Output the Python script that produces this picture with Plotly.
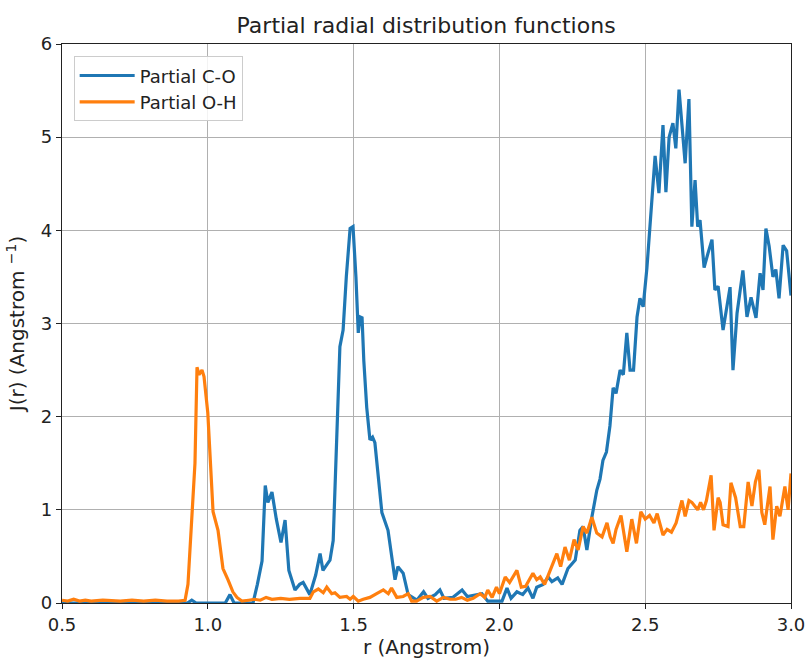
import plotly.graph_objects as go

# Partial C-O
r_co = [0.50, 0.90, 0.93, 0.945, 0.96, 1.06, 1.076, 1.09, 1.155, 1.17, 1.186, 1.197, 1.206, 1.22,
        1.235, 1.251, 1.265, 1.278, 1.299, 1.315, 1.327, 1.35, 1.37, 1.385, 1.395, 1.41, 1.419,
        1.43, 1.443, 1.453, 1.464, 1.475, 1.488, 1.498, 1.508, 1.516, 1.522, 1.529, 1.535, 1.545,
        1.556, 1.565, 1.573, 1.585, 1.597, 1.618, 1.63, 1.642, 1.652, 1.67, 1.687, 1.717, 1.74,
        1.755, 1.78, 1.796, 1.81, 1.84, 1.872, 1.89, 1.94, 1.96, 2.009, 2.026, 2.04, 2.06, 2.08,
        2.098, 2.115, 2.128, 2.15, 2.167, 2.18, 2.2, 2.215, 2.235, 2.26, 2.276, 2.287, 2.3, 2.317,
        2.334, 2.345, 2.355, 2.367, 2.379, 2.39, 2.40, 2.414, 2.425, 2.437, 2.448, 2.46, 2.472,
        2.482, 2.493, 2.506, 2.517, 2.534, 2.547, 2.561, 2.571, 2.582, 2.595, 2.605, 2.616, 2.626,
        2.637, 2.65, 2.66, 2.671, 2.68, 2.688, 2.702, 2.715, 2.729, 2.739, 2.75, 2.767, 2.78,
        2.791, 2.801, 2.815, 2.835, 2.849, 2.863, 2.88, 2.894, 2.904, 2.914, 2.925, 2.938, 2.948,
        2.959, 2.973, 2.985, 3.0]
j_co = [0.0, 0.0, 0.0, 0.03, 0.0, 0.0, 0.09, 0.0, 0.0, 0.2, 0.45, 1.26, 1.08, 1.19,
        0.9, 0.65, 0.89, 0.35, 0.14, 0.2, 0.22, 0.09, 0.3, 0.53, 0.35, 0.42, 0.46,
        0.67, 2.0, 2.75, 2.93, 3.5, 4.02, 4.04, 3.5, 2.9, 3.07, 3.06, 2.6, 2.1,
        1.75, 1.78, 1.72, 1.3, 0.97, 0.78, 0.5, 0.25, 0.39, 0.32, 0.09, 0.03, 0.12,
        0.05, 0.09, 0.14, 0.05, 0.06, 0.14, 0.07, 0.1, 0.02, 0.02, 0.16, 0.05, 0.12, 0.09,
        0.16, 0.05, 0.17, 0.2, 0.28, 0.23, 0.27, 0.2, 0.37, 0.46, 0.78, 0.82, 0.57, 0.92,
        1.21, 1.33, 1.53, 1.62, 1.9, 2.31, 2.25, 2.5, 2.45, 2.9, 2.5, 2.5, 3.07,
        3.27, 3.18, 3.6, 4.1, 4.8, 4.4, 5.13, 4.41, 5.0, 5.15, 4.88, 5.51, 5.09,
        4.72, 5.41, 4.04, 4.54, 4.04, 4.11, 3.6, 3.75, 3.9, 3.36, 3.4, 2.93, 3.2,
        3.39, 2.5, 3.11, 3.57, 3.07, 3.28, 3.06, 3.54, 3.36, 4.02, 3.83, 3.5, 3.58,
        3.27, 3.84, 3.78, 3.3]

# Partial O-H
r_oh = [0.50, 0.52, 0.54, 0.56, 0.58, 0.60, 0.64, 0.70, 0.74, 0.78, 0.82, 0.86, 0.90, 0.922,
        0.932, 0.946, 0.956, 0.963, 0.97, 0.98, 0.987, 1.0, 1.01, 1.018, 1.035, 1.052, 1.069,
        1.086, 1.10, 1.117, 1.14, 1.16, 1.18, 1.20, 1.22, 1.25, 1.28, 1.30, 1.316, 1.35, 1.362,
        1.379, 1.396, 1.408, 1.425, 1.436, 1.453, 1.476, 1.488, 1.499, 1.516, 1.533, 1.556,
        1.579, 1.602, 1.619, 1.63, 1.648, 1.67, 1.687, 1.699, 1.716, 1.739, 1.762, 1.785, 1.808,
        1.831, 1.85, 1.87, 1.89, 1.91, 1.934, 1.95, 1.96, 1.975, 1.99, 2.0, 2.02, 2.035, 2.06,
        2.075, 2.09, 2.115, 2.128, 2.14, 2.155, 2.18, 2.197, 2.21, 2.225, 2.24, 2.256, 2.27,
        2.287, 2.30, 2.317, 2.334, 2.352, 2.369, 2.38, 2.39, 2.40, 2.417, 2.437, 2.454, 2.47,
        2.485, 2.50, 2.515, 2.53, 2.541, 2.561, 2.575, 2.59, 2.606, 2.626, 2.637, 2.65, 2.66,
        2.68, 2.69, 2.70, 2.71, 2.726, 2.736, 2.75, 2.757, 2.767, 2.784, 2.794, 2.81, 2.826,
        2.838, 2.853, 2.866, 2.878, 2.89, 2.90, 2.91, 2.928, 2.938, 2.951, 2.962, 2.979, 2.99,
        3.0]
j_oh = [0.03, 0.02, 0.04, 0.02, 0.03, 0.02, 0.03, 0.02, 0.03, 0.02, 0.03, 0.02, 0.02, 0.03,
        0.2, 0.92, 1.5, 2.53, 2.45, 2.5, 2.43, 2.04, 1.5, 0.98, 0.78, 0.37, 0.25,
        0.12, 0.06, 0.02, 0.03, 0.04, 0.03, 0.06, 0.04, 0.05, 0.04, 0.05, 0.05, 0.05, 0.12,
        0.15, 0.11, 0.17, 0.1, 0.11, 0.06, 0.07, 0.04, 0.07, 0.02, 0.04, 0.06,
        0.1, 0.14, 0.1, 0.16, 0.06, 0.07, 0.1, 0.02, 0.02, 0.06, 0.07, 0.02, 0.06,
        0.04, 0.04, 0.06, 0.03, 0.05, 0.1, 0.06, 0.14, 0.06, 0.17, 0.1, 0.28, 0.22, 0.35,
        0.17, 0.18, 0.32, 0.25, 0.28, 0.2, 0.39, 0.53, 0.39, 0.6, 0.46, 0.68, 0.57,
        0.82, 0.75, 0.92, 0.75, 0.71, 0.86, 0.71, 0.64, 0.79, 0.94, 0.55, 0.9, 0.64,
        0.98, 0.9, 0.94, 0.86, 0.96, 0.73, 0.79, 0.76, 0.86, 1.1, 0.93, 1.1, 1.08,
        1.0, 1.08, 1.0, 1.1, 1.37, 0.78, 1.13, 1.08, 0.84, 0.82, 1.29, 1.13, 0.82,
        0.82, 1.3, 1.04, 1.3, 1.43, 0.97, 0.84, 1.25, 0.68, 1.04, 0.93, 1.25, 1.0,
        1.39]

x_ticks = [0.5, 1.0, 1.5, 2.0, 2.5, 3.0]
x_ticklabels = ["0.5", "1.0", "1.5", "2.0", "2.5", "3.0"]
y_ticks = [0, 1, 2, 3, 4, 5, 6]

FONT = "DejaVu Sans, Liberation Sans, sans-serif"

fig = go.Figure()
fig.add_trace(go.Scatter(x=r_co, y=j_co, mode="lines", name="Partial C-O",
                         line=dict(color="#1f77b4", width=3.2)))
fig.add_trace(go.Scatter(x=r_oh, y=j_oh, mode="lines", name="Partial O-H",
                         line=dict(color="#ff7f0e", width=3.2)))

axis_common = dict(showline=True, linecolor="#222", linewidth=1.2, mirror=True,
                   showgrid=True, gridcolor="#b0b0b0", gridwidth=1,
                   ticks="outside", ticklen=5, tickcolor="#222", automargin=False,
                   tickfont=dict(size=18, color="#222", family=FONT), zeroline=False)

fig.update_layout(
    width=807, height=661,
    margin=dict(l=62, r=16, t=44, b=58),
    paper_bgcolor="white", plot_bgcolor="white",
    font=dict(family=FONT, color="#222"),
    title=dict(text="Partial radial distribution functions", x=0.528, xanchor="center",
               y=0.962, yanchor="middle", font=dict(size=22, family=FONT, color="#222")),
    xaxis=dict(range=[0.5, 3.0], tickvals=x_ticks, ticktext=x_ticklabels,
               title=dict(text="r (Angstrom)", font=dict(size=20, family=FONT), standoff=4),
               **axis_common),
    yaxis=dict(range=[0, 6], tickvals=y_ticks,
               title=dict(text="J(r) (Angstrom <sup>−1</sup>)", font=dict(size=20, family=FONT), standoff=10),
               **axis_common),
    legend=dict(x=0.016, y=0.978, xanchor="left", yanchor="top",
                bgcolor="rgba(255,255,255,0.85)", bordercolor="#cccccc", borderwidth=1,
                font=dict(size=18, family=FONT, color="#222"), itemwidth=55,
                tracegroupgap=4),
    showlegend=True,
)

fig.write_html("out.html")
